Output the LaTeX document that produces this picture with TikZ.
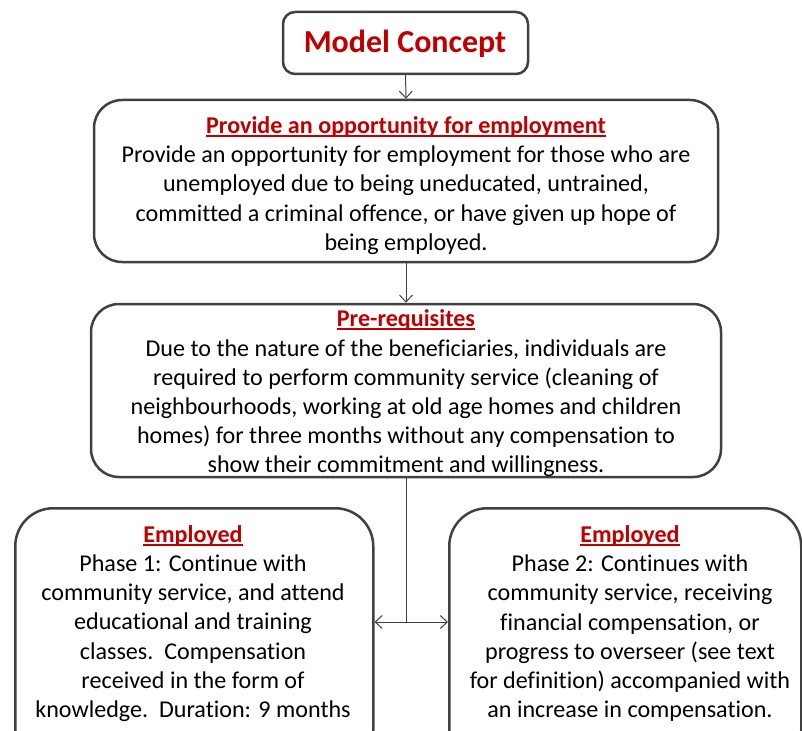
\documentclass[tikz,border=0pt]{standalone}
\usepackage{fontspec}
\setmainfont[Ligatures=NoCommon]{Carlito}
\usetikzlibrary{arrows.meta}
\definecolor{hred}{HTML}{C00000}
\definecolor{edge}{HTML}{404040}
\newcommand\hul[1]{\setbox0\hbox{#1}\rlap{\color{hred}\rule[-3.5pt]{\wd0}{2pt}}\box0}
\newcommand\hd[1]{{\bfseries\color{hred}\hul{#1}}}
\begin{document}
\begin{tikzpicture}[x=1pt,y=-1pt,
  box/.style={draw=edge,line width=2.5pt,fill=white},
  txt/.style={align=center,text=black,font=\fontsize{24.1}{29.2}\selectfont,inner sep=0pt},
  conn/.style={draw=edge,line width=1pt},
  tip/.style={-{Straight Barb[length=7pt,width=13pt]}}]
\useasboundingbox (0,0) rectangle (802,730);
\begin{scope}
\clip (0,0) rectangle (802,730);
\node[box,rounded corners=12pt,minimum width=245pt,minimum height=62pt] (mc) at (405.5,43) {};
\node[box,rounded corners=28pt,minimum width=624pt,minimum height=162pt] (opp) at (406,181) {};
\node[box,rounded corners=28pt,minimum width=630pt,minimum height=173pt] (pre) at (406,390.5) {};
\node[box,rounded corners=38pt,minimum width=358pt,minimum height=260pt,anchor=north west] (e1) at (14,507) {};
\node[box,rounded corners=38pt,minimum width=352pt,minimum height=260pt,anchor=north west] (e2) at (448,507) {};
\end{scope}
\node[font=\fontsize{32}{36}\selectfont\bfseries,text=hred,inner sep=0pt] (mct) at (405,44) {Model Concept};
\node[txt] (oppt) at (406,185.5) {\hd{Provide an opportunity for employment}\\
Provide an opportunity for employment for those who are\\
unemployed due to being uneducated, untrained,\\
committed a criminal offence, or have given up hope of\\
being employed.};
\node[txt] (pret) at (406,393.5) {\hd{Pre-requisites}\\
Due to the nature of the beneficiaries, individuals are\\
required to perform community service (cleaning of\\
neighbourhoods, working at old age homes and children\\
homes) for three months without any compensation to\\
show their commitment and willingness.};
\node[txt] (e1t) at (193,623.5) {\hd{Employed}\\
Phase 1: Continue with\\
community service, and attend\\
educational and training\\
classes.\ \ Compensation\\
received in the form of\\
knowledge.\ \ Duration: 9 months};
\node[txt] (e2t) at (630,623.5) {\hd{Employed}\\
Phase 2: Continues with\\
community service, receiving\\
financial compensation, or\\
progress to overseer (see text\\
for definition) accompanied with\\
an increase in compensation.};
\coordinate (j) at (406,622);
\draw[conn,tip] (mc.south) -- (opp.north);
\draw[conn,tip] (opp.south) -- (pre.north);
\draw[conn] (pre.south) -- (j);
\draw[conn,tip] (j) -- (e1.east |- j);
\draw[conn,tip] (j) -- (e2.west |- j);
\end{tikzpicture}
\end{document}
